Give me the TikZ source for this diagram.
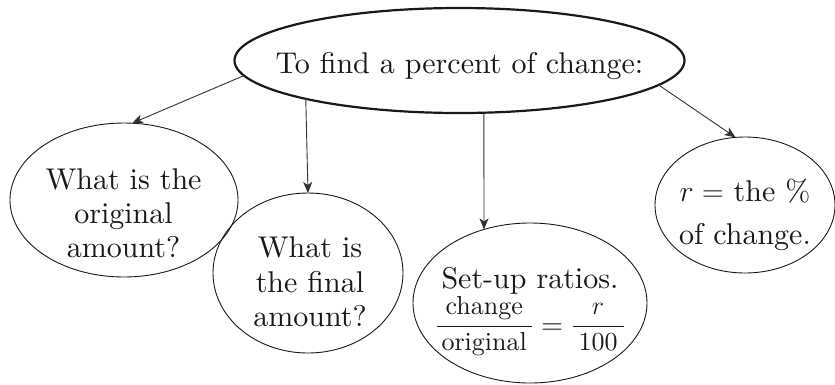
\RequirePackage{fix-cm}
\documentclass[tikz,border=0pt]{standalone}
\usepackage{amsmath}
\usepackage{fontspec}
% the 10pt design of Latin Modern, scaled up, for every size
\setmainfont{lmroman10-regular.otf}
\usetikzlibrary{arrows.meta,shapes.geometric}
\newcommand{\fracsz}[1]{\text{\fontsize{26}{26}\selectfont #1}}
\begin{document}
\begin{tikzpicture}[x=1pt,y=-1pt,
  bubble/.style={draw=black!90,line width=0.9pt,ellipse,inner sep=0pt,outer sep=0pt},
  hub/.style={bubble,line width=2.2pt},
  txt/.style={align=center,text=black!90,font=\fontsize{30}{34}\selectfont,inner sep=0pt},
  link/.style={draw=black!80,line width=0.9pt,-{Stealth[length=11pt,width=9pt,inset=3pt]}}]
\useasboundingbox (0,0) rectangle (835,384);

% central question
\node[hub,minimum width=450pt,minimum height=105pt] (T) at (459.5,60.5) {};
\node[txt,anchor=base] (Tt) at (459.5,73) {To find a percent of change:};

% the four steps
\node[bubble,minimum width=228pt,minimum height=154pt] (A) at (124,200) {};
\node[txt] (At) at (123.5,213.6) {What is the\\original\\amount?};

\node[bubble,minimum width=190pt,minimum height=160pt] (B) at (308,273) {};
\node[txt,font=\fontsize{30}{34.5}\selectfont] (Bt) at (310,282) {What is\\the final\\amount?};

\node[bubble,minimum width=234pt,minimum height=160pt] (C) at (530,303) {};
\node[txt,anchor=north] (Ct) at (530,267.4)
  {Set-up ratios.\\[0.4pt]
   $\dfrac{\fracsz{change}}{\raisebox{4pt}{\hspace{5pt}\fracsz{original}\hspace{5pt}}}
    =\dfrac{\fracsz{$r$}}{\raisebox{4pt}{\hspace{6pt}\fracsz{100}\hspace{6pt}}}$};

\node[bubble,minimum width=180pt,minimum height=136pt] (D) at (745,205) {};
\node[txt,font=\fontsize{30}{43}\selectfont] (Dt) at (745,215) {$r=$ the \%\\of change.};

% connectors
\draw[link] (T.184) -- (A.84);
\draw[link] (T.194) -- (B.north);
\draw[link] (T.295) -- (C.122);
\draw[link] (T.353) -- (D.98);
\end{tikzpicture}
\end{document}
